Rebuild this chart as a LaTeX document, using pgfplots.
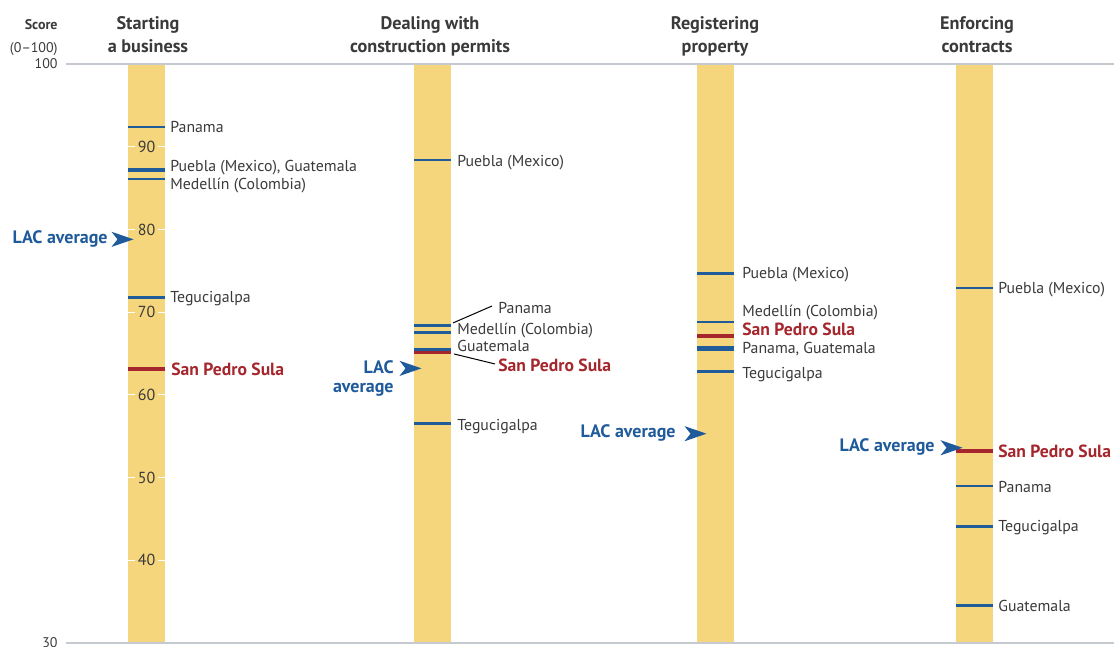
\documentclass[border=0pt]{standalone}
\usepackage{pgfplots}
\pgfplotsset{compat=1.18}
\usepackage{fontspec}
\setmainfont{PT Sans}

\definecolor{barcol}{HTML}{F5D67D}
\definecolor{mkblue}{HTML}{1F5C99}
\definecolor{lacblue}{HTML}{1F5A9A}
\definecolor{spsred}{HTML}{A5262C}
\definecolor{txt}{HTML}{3A3A3A}
\definecolor{rulegray}{HTML}{C5CAD0}

% LAC average arrowhead, tip at the data point
\pgfdeclareplotmark{lac}{%
  \pgfpathmoveto{\pgfpoint{0pt}{0pt}}%
  \pgfpathlineto{\pgfpoint{-11pt}{3.8pt}}%
  \pgfpathlineto{\pgfpoint{-8pt}{0pt}}%
  \pgfpathlineto{\pgfpoint{-11pt}{-3.8pt}}%
  \pgfpathclose\pgfusepathqfill}

\newcommand\lbl{\fontsize{7.9}{8}\selectfont}
\newcommand\ttl{\fontsize{9.1}{11.5}\selectfont\bfseries}
\newcommand\sps{\fontsize{8.8}{9}\selectfont\bfseries}
\newcommand\lac{\fontsize{9}{9.5}\selectfont\bfseries}

\tikzset{
  lab/.style={anchor=west, inner sep=0pt, font=\lbl, text=txt, text height=1.45ex, text depth=0.3ex},
  spslab/.style={anchor=west, inner sep=0pt, font=\sps, text=spsred, text height=1.45ex, text depth=0.3ex},
  ttlab/.style={anchor=base, inner sep=0pt, font=\ttl, text=txt},
}

\begin{document}
\begin{tikzpicture}
\begin{axis}[
    scale only axis,
    width=557pt, height=323.5pt,
    xmin=0, xmax=1114,
    ymin=29.51, ymax=107.74,
    axis lines=none,
    clip=false,
]
\coordinate (bbll) at (axis cs:0,29.51);
\coordinate (bbur) at (axis cs:1114,107.74);

% bars (score range 30-100)
\addplot[fill=barcol, draw=none] coordinates {(128,30) (165,30) (165,100) (128,100)} -- cycle;
\addplot[fill=barcol, draw=none] coordinates {(414,30) (451,30) (451,100) (414,100)} -- cycle;
\addplot[fill=barcol, draw=none] coordinates {(697,30) (734,30) (734,100) (697,100)} -- cycle;
\addplot[fill=barcol, draw=none] coordinates {(956,30) (993,30) (993,100) (956,100)} -- cycle;

% top and bottom rules
\addplot[rulegray, line width=0.9pt] coordinates {(66,100) (1114,100)};
\addplot[rulegray, line width=0.9pt] coordinates {(66,30) (1114,30)};
\node[anchor=east, inner sep=0pt, text=txt, font=\fontsize{7}{8}\selectfont] at (axis cs:58,100) {100};
\node[anchor=east, inner sep=0pt, text=txt, font=\fontsize{7}{8}\selectfont] at (axis cs:58,30) {30};
\node[anchor=base east, inner sep=0pt, text=txt, font=\fontsize{7}{8}\selectfont\bfseries] at (axis cs:58,104.17) {Score};
\node[anchor=base east, inner sep=0pt, text=txt, font=\fontsize{7}{8}\selectfont] at (axis cs:58,101.39) {(0--100)};

% scale numbers inside the bars
\pgfplotsinvokeforeach{146.5,432.5,715.5,974.5}{
  \pgfplotsinvokeforeach{40,50,60,70,80,90}{
    \draw[white, line width=0.5pt] (axis cs:#1-18.5,##1) -- (axis cs:#1+18.5,##1);
    \node[fill=barcol, text=txt, inner xsep=1.5pt, inner ysep=0pt, font=\fontsize{8}{9}\selectfont] at (axis cs:#1,##1) {##1};
  }
}

% titles
\node[ttlab] at (axis cs:148,104.17) {Starting};
\node[ttlab] at (axis cs:148,101.39) {a business};
\node[ttlab] at (axis cs:430,104.17) {Dealing with};
\node[ttlab] at (axis cs:430,101.39) {construction permits};
\node[ttlab] at (axis cs:715,104.17) {Registering};
\node[ttlab] at (axis cs:715,101.39) {property};
\node[ttlab] at (axis cs:977,104.17) {Enforcing};
\node[ttlab] at (axis cs:977,101.39) {contracts};

% comparator cities
\addplot[only marks, mark=-, mark size=9.25pt, mark options={line width=1.3pt, mkblue}]
  coordinates {(146.5,92.4) (146.5,87.3) (146.5,87.1) (146.5,86.1) (146.5,71.8)
               (432.5,88.4) (432.5,68.4) (432.5,67.5) (432.5,65.5) (432.5,56.5)
               (715.5,74.7) (715.5,68.8) (715.5,65.7) (715.5,65.4) (715.5,62.8)
               (974.5,72.9) (974.5,49.0) (974.5,44.1) (974.5,34.5)};

% San Pedro Sula
\addplot[only marks, mark=-, mark size=9.25pt, mark options={line width=1.7pt, spsred}]
  coordinates {(146.5,63.1) (432.5,65.1) (715.5,67.1) (974.5,53.2)};

% LAC average
\addplot[only marks, mark=lac, lacblue]
  coordinates {(133.5,78.8) (421.5,63.2) (706.5,55.3) (962.5,53.6)};

% labels: starting a business
\node[lab] at (axis cs:170,92.38) {Panama};
\node[lab] at (axis cs:170,87.67) {Puebla (Mexico), Guatemala};
\node[lab] at (axis cs:170,85.49) {Medellín (Colombia)};
\node[lab] at (axis cs:170,71.83) {Tegucigalpa};
\node[spslab] at (axis cs:171,63.00) {San Pedro Sula};
\node[anchor=east, inner sep=0pt, font=\lac, text=lacblue] at (axis cs:108,78.84) {LAC average};

% labels: construction permits
\node[lab] at (axis cs:457,88.27) {Puebla (Mexico)};
\node[lab] at (axis cs:498,70.50) {Panama};
\node[lab] at (axis cs:457,67.96) {Medellín (Colombia)};
\node[lab] at (axis cs:457,65.90) {Guatemala};
\node[spslab] at (axis cs:498,63.49) {San Pedro Sula};
\node[lab] at (axis cs:457,56.36) {Tegucigalpa};
\draw[black, line width=0.5pt] (axis cs:453,68.69) -- (axis cs:492,70.74);
\draw[black, line width=0.5pt] (axis cs:454,64.94) -- (axis cs:495,63.73);
\node[anchor=east, inner sep=0pt, align=right, font=\lac, text=lacblue] at (axis cs:394,61.94) {LAC\\average};

% labels: registering property
\node[lab] at (axis cs:742,74.73) {Puebla (Mexico)};
\node[lab] at (axis cs:742,70.14) {Medellín (Colombia)};
\node[spslab] at (axis cs:742,67.84) {San Pedro Sula};
\node[lab] at (axis cs:742,65.66) {Panama, Guatemala};
\node[lab] at (axis cs:742,62.64) {Tegucigalpa};
\node[anchor=east, inner sep=0pt, font=\lac, text=lacblue] at (axis cs:676,55.39) {LAC average};

% labels: enforcing contracts
\node[lab] at (axis cs:998,72.92) {Puebla (Mexico)};
\node[spslab] at (axis cs:998,53.09) {San Pedro Sula};
\node[lab] at (axis cs:998,48.86) {Panama};
\node[lab] at (axis cs:998,44.14) {Tegucigalpa};
\node[lab] at (axis cs:998,34.47) {Guatemala};
\node[anchor=east, inner sep=0pt, font=\lac, text=lacblue] at (axis cs:935,53.69) {LAC average};
\end{axis}
\pgfresetboundingbox
\path[use as bounding box] (bbll) rectangle (bbur);
\end{tikzpicture}
\end{document}
